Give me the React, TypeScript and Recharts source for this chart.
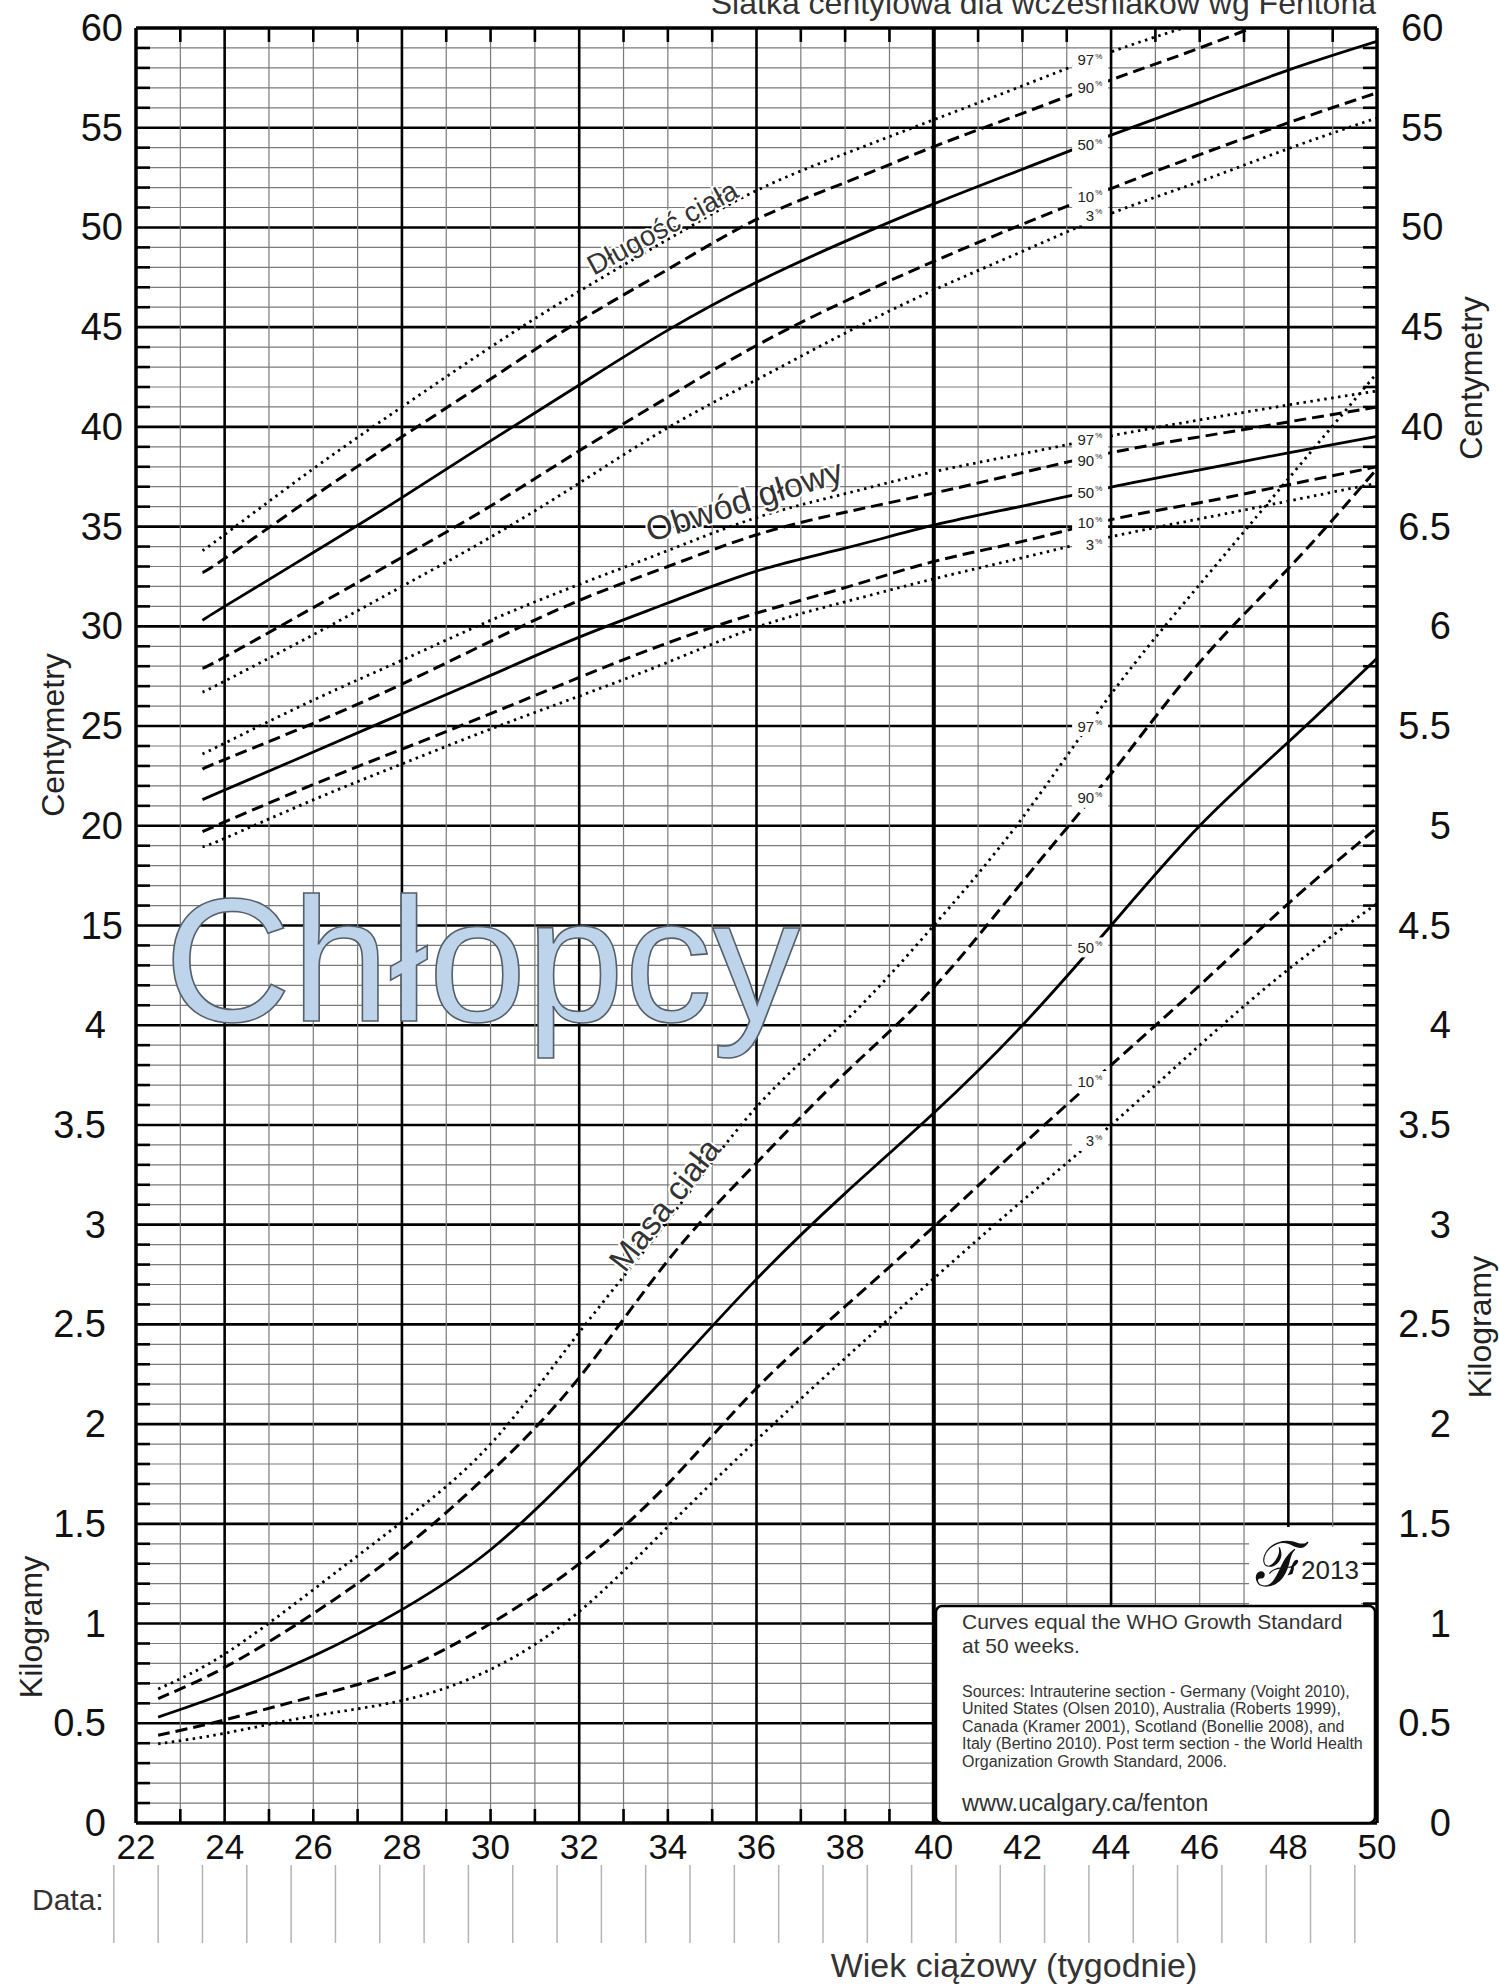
import React from 'react';
import { ComposedChart, Line, XAxis, YAxis, ReferenceLine, ReferenceDot } from 'recharts';

const FONT = '"Liberation Sans", Arial, Helvetica, sans-serif';

// gestational age (weeks) at which the curves were read
const lengthWeeks = [23.5, 24, 26, 28, 30, 32, 34, 36, 38, 40, 42, 44, 46, 48, 50];
const weightWeeks = [22.5, 24, 26, 28, 30, 32, 34, 36, 38, 40, 42, 44, 46, 48, 50];

// body length, cm
const length97 = [33.8, 34.6, 37.9, 41.0, 44.0, 46.8, 49.4, 51.85, 53.7, 55.4, 57.1, 58.8, 60.25, 61.6, 62.9];
const length90 = [32.7, 33.4, 36.5, 39.5, 42.4, 45.3, 47.9, 50.4, 52.25, 54.05, 55.72, 57.4, 59.0, 60.7, 62.2];
const length50 = [30.3, 31.0, 33.7, 36.45, 39.3, 42.1, 44.85, 47.25, 49.3, 51.18, 52.92, 54.63, 56.26, 57.89, 59.33];
const length10 = [27.9, 28.46, 30.94, 33.46, 36.03, 38.8, 41.49, 44.08, 46.3, 48.3, 50.16, 51.95, 53.65, 55.25, 56.75];
const length3 = [26.7, 27.25, 29.58, 32.0, 34.47, 37.18, 39.96, 42.36, 44.7, 46.86, 48.8, 50.7, 52.3, 53.95, 55.49];

// head circumference, cm
const head97 = [23.6, 24.14, 26.3, 28.3, 30.3, 32.1, 33.8, 35.45, 36.65, 37.75, 38.65, 39.55, 40.35, 41.1, 41.8];
const head90 = [22.84, 23.32, 25.14, 27.1, 29.25, 31.3, 33.0, 34.59, 35.72, 36.68, 37.71, 38.71, 39.5, 40.25, 41.0];
const head50 = [21.31, 21.79, 23.7, 25.62, 27.54, 29.46, 31.17, 32.77, 33.92, 35.07, 36.03, 36.98, 37.85, 38.7, 39.52];
const head10 = [19.71, 20.19, 22.07, 23.84, 25.62, 27.44, 29.17, 30.66, 31.94, 33.25, 34.26, 35.35, 36.2, 37.1, 38.0];
const head3 = [18.95, 19.37, 21.3, 23.1, 24.85, 26.5, 28.2, 29.95, 31.23, 32.38, 33.44, 34.49, 35.39, 36.28, 37.18];

// weight, kg
const weight97 = [0.672, 0.847, 1.17, 1.51, 1.9, 2.46, 3.02, 3.59, 4.02, 4.5, 5.04, 5.66, 6.21, 6.74, 7.27];
const weight90 = [0.624, 0.78, 1.05, 1.37, 1.76, 2.233, 2.82, 3.31, 3.76, 4.19, 4.72, 5.26, 5.82, 6.29, 6.79];
const weight50 = [0.531, 0.649, 0.837, 1.07, 1.37, 1.787, 2.25, 2.727, 3.157, 3.56, 4.0, 4.5, 5.0, 5.42, 5.84];
const weight10 = [0.44, 0.517, 0.634, 0.77, 1.0, 1.3, 1.7, 2.18, 2.59, 2.99, 3.4, 3.8, 4.2, 4.61, 4.99];
const weight3 = [0.397, 0.45, 0.537, 0.614, 0.77, 1.06, 1.486, 1.92, 2.33, 2.73, 3.12, 3.5, 3.9, 4.28, 4.61];

// percentile tags sitting on the curves near week 43.5
const percentiles = ['97', '90', '50', '10', '3'];
const tagWeek = 43.55;
const lengthTagCm = [58.4, 57.03, 54.15, 51.57, 50.6];
const headTagCm = [39.37, 38.32, 36.73, 35.19, 34.1];
const weightTagKg = [5.5, 5.14, 4.39, 3.72, 3.42];

// axis tick labels (one shared scale: 18 major steps)
const xTicks = [22, 24, 26, 28, 30, 32, 34, 36, 38, 40, 42, 44, 46, 48, 50];
const leftLabels = ['0', '0.5', '1', '1.5', '2', '2.5', '3', '3.5', '4', '15', '20', '25', '30', '35', '40', '45', '50', '55', '60'];
const rightLabels = ['0', '0.5', '1', '1.5', '2', '2.5', '3', '3.5', '4', '4.5', '5', '5.5', '6', '6.5', '40', '45', '50', '55', '60'];
const yTicks = leftLabels.map((_, i) => i);

// both units share one axis: 5 cm or 0.5 kg per major step
const cmY = (cm: number) => cm / 5 + 6;
const kgY = (kg: number) => kg * 2;

const series = [
  { key: 'l97', weeks: lengthWeeks, values: length97, conv: cmY, style: 'dot' },
  { key: 'l90', weeks: lengthWeeks, values: length90, conv: cmY, style: 'dash' },
  { key: 'l50', weeks: lengthWeeks, values: length50, conv: cmY, style: 'solid' },
  { key: 'l10', weeks: lengthWeeks, values: length10, conv: cmY, style: 'dash' },
  { key: 'l3', weeks: lengthWeeks, values: length3, conv: cmY, style: 'dot' },
  { key: 'h97', weeks: lengthWeeks, values: head97, conv: cmY, style: 'dot' },
  { key: 'h90', weeks: lengthWeeks, values: head90, conv: cmY, style: 'dash' },
  { key: 'h50', weeks: lengthWeeks, values: head50, conv: cmY, style: 'solid' },
  { key: 'h10', weeks: lengthWeeks, values: head10, conv: cmY, style: 'dash' },
  { key: 'h3', weeks: lengthWeeks, values: head3, conv: cmY, style: 'dot' },
  { key: 'w97', weeks: weightWeeks, values: weight97, conv: kgY, style: 'dot' },
  { key: 'w90', weeks: weightWeeks, values: weight90, conv: kgY, style: 'dash' },
  { key: 'w50', weeks: weightWeeks, values: weight50, conv: kgY, style: 'solid' },
  { key: 'w10', weeks: weightWeeks, values: weight10, conv: kgY, style: 'dash' },
  { key: 'w3', weeks: weightWeeks, values: weight3, conv: kgY, style: 'dot' },
];

const allWeeks = Array.from(new Set([...weightWeeks, ...lengthWeeks])).sort((a, b) => a - b);
const data = allWeeks.map((w) => {
  const row: Record<string, number> = { week: w };
  series.forEach((s) => {
    const i = s.weeks.indexOf(w);
    if (i >= 0) row[s.key] = s.conv(s.values[i]);
  });
  return row;
});

const lineStyle: Record<string, { dash?: string; width: number }> = {
  dot: { dash: '2.5 4.5', width: 2.8 },
  dash: { dash: '12 6', width: 3 },
  solid: { width: 2.8 },
};

const LeftTick = (props: any) => {
  const { x, y, payload } = props;
  const i = payload.value;
  return (
    <text x={i >= 9 ? x - 13 : x - 30} y={y} textAnchor="end" dominantBaseline="central" fontSize={38} fill="#111" fontFamily={FONT}>
      {leftLabels[i]}
    </text>
  );
};

const RightTick = (props: any) => {
  const { x, y, payload } = props;
  const i = payload.value;
  const cm = i >= 14;
  return (
    <text x={cm ? x + 24 : x + 74} y={y} textAnchor={cm ? 'start' : 'end'} dominantBaseline="central" fontSize={38} fill="#111" fontFamily={FONT}>
      {rightLabels[i]}
    </text>
  );
};

const BottomTick = (props: any) => {
  const { x, y, payload } = props;
  return (
    <text x={x} y={y + 23} textAnchor="middle" dominantBaseline="central" fontSize={35} fill="#111" fontFamily={FONT}>
      {payload.value}
    </text>
  );
};

const tagShape = (label: string) => (props: any) => {
  const { cx, cy } = props;
  return (
    <g>
      <rect x={cx - 19} y={cy - 10} width={36} height={20} fill="#fff" />
      <text x={cx + 3} y={cy + 5.5} textAnchor="end" fontSize={15} fill="#222" fontFamily={FONT}>{label}</text>
      <text x={cx + 4} y={cy - 1} fontSize={8} fill="#222" fontFamily={FONT}>%</text>
    </g>
  );
};

const curveTitle = (text: string, angle: number, size: number) => (props: any) => {
  const { cx, cy } = props;
  return (
    <text x={cx} y={cy} transform={`rotate(${angle} ${cx} ${cy})`} textAnchor="middle" fontSize={size} fill="#333"
      stroke="#fff" strokeWidth={4} paintOrder="stroke" fontFamily={FONT}>
      {text}
    </text>
  );
};

const boysShape = (props: any) => {
  const { cx, cy } = props;
  return (
    <text x={cx} y={cy} fontSize={176} fill="#bdd4eb" stroke="#56606a" strokeWidth={1.6} fontFamily={FONT}>
      Chłopcy
    </text>
  );
};

const weekLines = Array.from({ length: 27 }, (_, i) => 23 + i);
const rowSteps = Array.from({ length: 89 }, (_, i) => (i + 1) / 5);
const dataRowWeeks = Array.from({ length: 29 }, (_, i) => 21.5 + i);
const TICK_W = 0.316;
const TICK_H = 0.14;

export default function App() {
  return (
    <div style={{ position: 'absolute', left: 0, top: 0, width: 1499, height: 1988, background: '#fff' }}>
      <ComposedChart width={1499} height={1988} data={data} margin={{ top: 28, right: 0, bottom: 105, left: 0 }}>
        <XAxis dataKey="week" type="number" domain={[22, 50]} ticks={xTicks} interval={0} allowDataOverflow
          axisLine={false} tickLine={false} tickSize={0} tickMargin={0} height={60} tick={<BottomTick />} />
        <YAxis yAxisId="left" type="number" domain={[0, 18]} ticks={yTicks} interval={0} allowDataOverflow
          axisLine={false} tickLine={false} tickSize={0} tickMargin={0} width={136} tick={<LeftTick />} />
        <YAxis yAxisId="right" orientation="right" type="number" domain={[0, 18]} ticks={yTicks} interval={0} allowDataOverflow
          axisLine={false} tickLine={false} tickSize={0} tickMargin={0} width={122} tick={<RightTick />} />

        {rowSteps.map((v, i) => {
          const major = (i + 1) % 5 === 0;
          return (
            <ReferenceLine key={`h${i}`} yAxisId="left" y={v} stroke={major ? '#000' : '#7a7a7a'} strokeWidth={major ? 2.6 : 1.2} />
          );
        })}
        {weekLines.map((w) => {
          const thick = w % 4 === 0;
          return (
            <ReferenceLine key={`v${w}`} yAxisId="left" x={w} stroke={thick ? '#000' : '#7a7a7a'} strokeWidth={w === 40 ? 4 : thick ? 2.6 : 1.2} />
          );
        })}
        {rowSteps.filter((_, i) => (i + 1) % 5 !== 0).map((v, i) => (
          <ReferenceLine key={`tl${i}`} yAxisId="left" segment={[{ x: 22, y: v }, { x: 22 + TICK_W, y: v }]} stroke="#000" strokeWidth={2.6} />
        ))}
        {rowSteps.filter((_, i) => (i + 1) % 5 !== 0).map((v, i) => (
          <ReferenceLine key={`tr${i}`} yAxisId="left" segment={[{ x: 50 - TICK_W, y: v }, { x: 50, y: v }]} stroke="#000" strokeWidth={2.6} />
        ))}
        {weekLines.filter((w) => w % 4 !== 0).map((w) => (
          <ReferenceLine key={`tb${w}`} yAxisId="left" segment={[{ x: w, y: 0 }, { x: w, y: TICK_H }]} stroke="#000" strokeWidth={2.6} />
        ))}
        {weekLines.filter((w) => w % 4 !== 0).map((w) => (
          <ReferenceLine key={`tt${w}`} yAxisId="left" segment={[{ x: w, y: 18 - TICK_H }, { x: w, y: 18 }]} stroke="#000" strokeWidth={2.6} />
        ))}
        {dataRowWeeks.map((w) => (
          <ReferenceLine key={`d${w}`} yAxisId="left" ifOverflow="visible" segment={[{ x: w, y: -0.421 }, { x: w, y: -1.203 }]} stroke="#b4b4b4" strokeWidth={1.5} />
        ))}

        <ReferenceDot yAxisId="left" x={22.64} y={8.04} r={0} shape={boysShape} />

        {series.map((s) => (
          <Line key={s.key} yAxisId="left" type="natural" dataKey={s.key} stroke="#000"
            strokeWidth={lineStyle[s.style].width} strokeDasharray={lineStyle[s.style].dash}
            dot={false} activeDot={false} connectNulls isAnimationActive={false} />
        ))}

        <ReferenceLine yAxisId="left" x={22} stroke="#000" strokeWidth={3.5} />
        <ReferenceLine yAxisId="left" x={50} stroke="#000" strokeWidth={3.5} />
        <ReferenceLine yAxisId="left" y={0} stroke="#000" strokeWidth={3.5} />
        <ReferenceLine yAxisId="left" y={18} stroke="#000" strokeWidth={3.5} />

        {percentiles.map((p, i) => (
          <ReferenceDot key={`lt${p}`} yAxisId="left" x={tagWeek} y={cmY(lengthTagCm[i])} r={0} shape={tagShape(p)} />
        ))}
        {percentiles.map((p, i) => (
          <ReferenceDot key={`ht${p}`} yAxisId="left" x={tagWeek} y={cmY(headTagCm[i])} r={0} shape={tagShape(p)} />
        ))}
        {percentiles.map((p, i) => (
          <ReferenceDot key={`wt${p}`} yAxisId="left" x={tagWeek} y={kgY(weightTagKg[i])} r={0} shape={tagShape(p)} />
        ))}

        <ReferenceDot yAxisId="left" x={33.98} y={cmY(49.57)} r={0} shape={curveTitle('Długość ciała', -28.5, 28)} />
        <ReferenceDot yAxisId="left" x={35.8} y={cmY(35.75)} r={0} shape={curveTitle('Obwód głowy', -17.5, 34)} />
        <ReferenceDot yAxisId="left" x={34.13} y={kgY(3.065)} r={0} shape={curveTitle('Masa ciała', -52, 33)} />
      </ComposedChart>

      <svg width={1499} height={1988} style={{ position: 'absolute', left: 0, top: 0, pointerEvents: 'none' }} fontFamily={FONT}>
        <text x={1376} y={14} textAnchor="end" fontSize={32} fill="#333">Siatka centylowa dla wcześniaków wg Fentona</text>

        <text transform="translate(64 735) rotate(-90)" textAnchor="middle" fontSize={32} fill="#222">Centymetry</text>
        <text transform="translate(42 1627) rotate(-90)" textAnchor="middle" fontSize={32} fill="#222">Kilogramy</text>
        <text transform="translate(1482 378) rotate(-90)" textAnchor="middle" fontSize={32} fill="#222">Centymetry</text>
        <text transform="translate(1491 1327) rotate(-90)" textAnchor="middle" fontSize={32} fill="#222">Kilogramy</text>

        <text x={32} y={1910} fontSize={30} fill="#333">Data:</text>
        <text x={1014} y={1977} textAnchor="middle" fontSize={34} fill="#333">Wiek ciążowy (tygodnie)</text>

        <rect x={1249} y={1527} width={112} height={78} fill="#fff" />
        <text x={1256} y={1586} fontSize={62} fill="#111" fontFamily='"DejaVu Serif", serif'>ℱ</text>
        <text x={1301} y={1579} fontSize={26} fill="#222">2013</text>

        <rect x={936} y={1606} width={439} height={217} rx={6} fill="#fff" stroke="#000" strokeWidth={2.5} />
        <text x={962} y={1629} fontSize={21} fill="#333">Curves equal the WHO Growth Standard</text>
        <text x={962} y={1653} fontSize={21} fill="#333">at 50 weeks.</text>
        <text fontSize={16} fill="#333">
          <tspan x={962} y={1697}>Sources: Intrauterine section - Germany (Voight 2010),</tspan>
          <tspan x={962} y={1714}>United States (Olsen 2010), Australia (Roberts 1999),</tspan>
          <tspan x={962} y={1732}>Canada (Kramer 2001), Scotland (Bonellie 2008), and</tspan>
          <tspan x={962} y={1749}>Italy (Bertino 2010). Post term section - the World Health</tspan>
          <tspan x={962} y={1767}>Organization Growth Standard, 2006.</tspan>
        </text>
        <text x={962} y={1811} fontSize={23.5} fill="#333">www.ucalgary.ca/fenton</text>
      </svg>
    </div>
  );
}
